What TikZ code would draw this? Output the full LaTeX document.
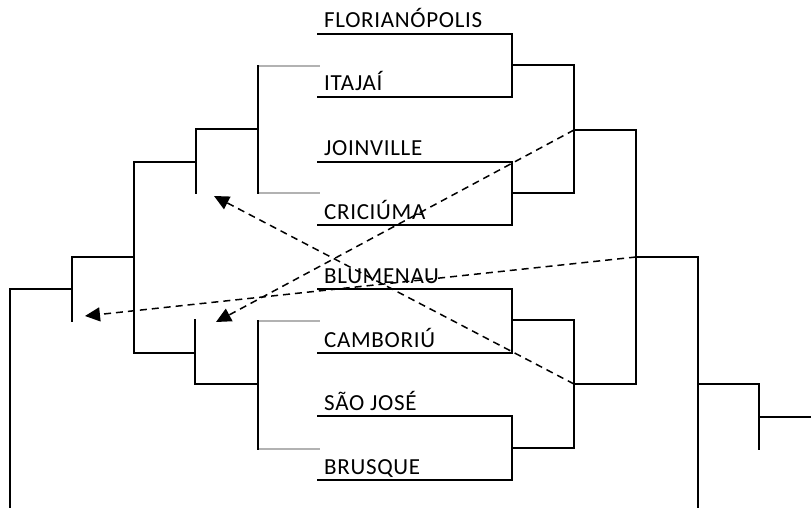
\documentclass[tikz,border=0pt]{standalone}
\usepackage{fontspec}
\setmainfont{Carlito}[LetterSpace=3]
\usetikzlibrary{arrows.meta}
\begin{document}
\begin{tikzpicture}[x=1pt,y=-1pt,
  bline/.style={line width=1.8pt,line cap=rect},
  gline/.style={line width=1.8pt,draw=gray!60},
  darr/.style={line width=1.5pt,dash pattern=on 7pt off 5pt,-{Triangle[length=15pt,width=14pt]}},
  team/.style={anchor=base west,inner sep=0pt,font=\fontsize{23}{23}\selectfont}]
\useasboundingbox (0,0) rectangle (811,508);
% team names
\node[team] (t1) at (324,28) {FLORIANÓPOLIS};
\node[team] (t2) at (324,91) {ITAJAÍ};
\node[team] (t3) at (324,156) {JOINVILLE};
\node[team] (t4) at (324,219) {CRICIÚMA};
\node[team] (t5) at (324,283) {BLUMENAU};
\node[team] (t6) at (324,347) {CAMBORIÚ};
\node[team] (t7) at (324,410) {SÃO JOSÉ};
\node[team] (t8) at (324,474) {BRUSQUE};
% right bracket
\draw[bline] (318,34) -- (512,34) -- (512,97) -- (318,97);
\draw[bline] (318,162) -- (512,162) -- (512,225) -- (318,225);
\draw[bline] (318,289) -- (512,289) -- (512,353) -- (318,353);
\draw[bline] (318,416) -- (512,416) -- (512,480) -- (318,480);
\draw[bline] (512,65) -- (574,65);
\draw[bline] (512,193) -- (574,193);
\draw[bline] (512,320) -- (574,320);
\draw[bline] (512,448) -- (574,448);
\draw[bline] (574,65) -- (574,193);
\draw[bline] (574,320) -- (574,448);
\coordinate (r1) at (574,130);
\coordinate (r2) at (574,384);
\coordinate (r3) at (636,257);
\draw[bline] (r1) -- (636,130) -- (636,384) -- (r2);
\draw[bline] (r3) -- (698,257);
\draw[bline] (698,257) -- (698,508);
\draw[bline] (698,384) -- (759,384);
\draw[bline] (759,384) -- (759,449);
\draw[bline] (759,417) -- (811,417);
% left bracket
\draw[gline] (258,66) -- (320,66);
\draw[gline] (258,193) -- (320,193);
\draw[gline] (258,321) -- (320,321);
\draw[gline] (258,449) -- (320,449);
\draw[bline] (258,66) -- (258,193);
\draw[bline] (258,129) -- (196,129) -- (196,193);
\draw[bline] (196,162) -- (134,162) -- (134,353) -- (195,353);
\draw[bline] (195,320) -- (195,384) -- (258,384);
\draw[bline] (258,321) -- (258,449);
\draw[bline] (134,257) -- (72,257) -- (72,321);
\draw[bline] (72,289) -- (10,289) -- (10,508);
% arrow tips
\coordinate (a1) at (216,322);
\coordinate (a2) at (214,196);
\coordinate (a3) at (85,316);
\draw[darr] (r1) -- (a1);
\draw[darr] (r2) -- (a2);
\draw[darr] (r3) -- (a3);
\end{tikzpicture}
\end{document}
